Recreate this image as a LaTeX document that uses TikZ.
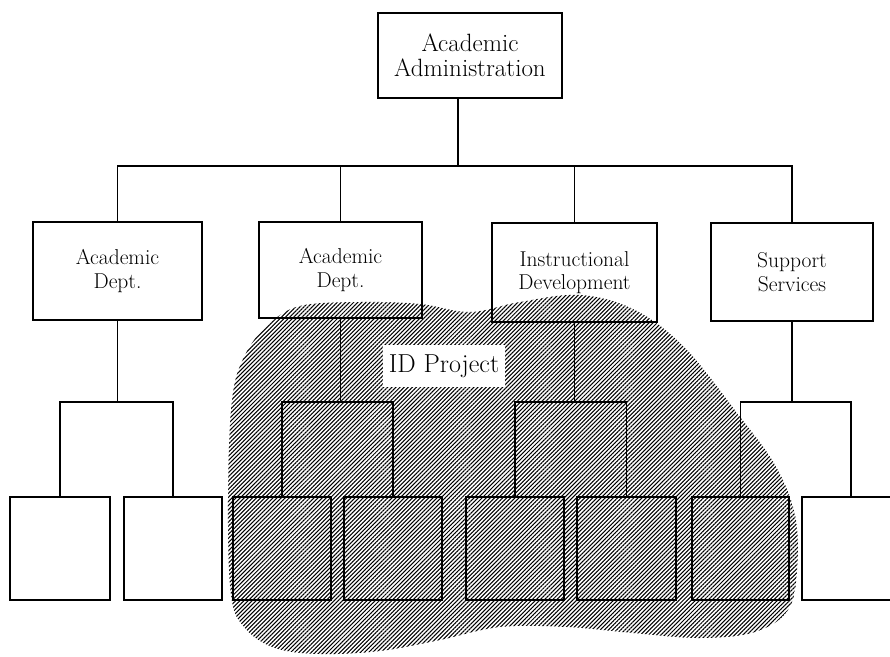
\documentclass[tikz,border=0pt]{standalone}
\usetikzlibrary{patterns.meta}
\begin{document}
\begin{tikzpicture}[x=1pt,y=-1pt,
  box/.style={draw,line width=1.6pt,inner sep=0pt,align=center,font=\fontsize{21.5}{23.5}\selectfont},
  leaf/.style={draw,line width=1.6pt,inner sep=0pt,minimum height=103pt},
  link/.style={line width=1.6pt},
  hatch/.style={pattern={Lines[angle=45,distance=2.9pt,line width=1.05pt]}}]
\useasboundingbox (0,0) rectangle (890,656);
\begin{scope}
\clip (0,0) rectangle (890,656);
% ID project blob
\path[hatch] plot[smooth cycle, tension=0.6] coordinates {
 (232,400) (245,355) (268,325) (300,306) (360,302) (420,304) (470,312)
 (520,302) (580,295) (635,310) (685,348) (737,413) (775,465) (795,515)
 (797,570) (788,610) (755,632) (700,638) (633,633) (567,627) (500,627)
 (440,640) (380,651) (320,654) (275,648) (245,628) (231,595) (228,500)};
\node[fill=white,inner sep=0pt,minimum width=122pt,minimum height=42pt,
  font=\fontsize{26}{28}\selectfont] (idp) at (444,366) {ID Project};

% top
\node[box,minimum width=184pt,minimum height=85pt,font=\fontsize{25}{25}\selectfont]
  (top) at (470,55.5) {Academic\\Administration};
% second level
\node[box,minimum width=169pt,minimum height=98pt] (d1) at (117.5,271) {Academic\\Dept.};
\node[box,minimum width=163pt,minimum height=96pt] (d2) at (340.5,270) {Academic\\Dept.};
\node[box,minimum width=165pt,minimum height=99pt] (d3) at (574.5,272.5) {Instructional\\Development};
\node[box,minimum width=162pt,minimum height=98pt] (d4) at (792,272) {Support\\Services};
% leaves
\node[leaf,minimum width=100pt] (a) at (60,548.5) {};
\node[leaf,minimum width=98pt] (b) at (173,548.5) {};
\node[leaf,minimum width=98pt] (c) at (282,548.5) {};
\node[leaf,minimum width=98pt] (d) at (393,548.5) {};
\node[leaf,minimum width=98pt] (e) at (515,548.5) {};
\node[leaf,minimum width=99pt] (f) at (626.5,548.5) {};
\node[leaf,minimum width=97pt] (g) at (740.5,548.5) {};
\node[leaf,minimum width=98pt] (h) at (851,548.5) {};

% connectors
\coordinate (bus) at (458,166);
\draw[link] ([xshift=-12pt]top.south) -- (bus);
\draw[link] (d1.north) -- (d1.north |- bus) -- (d4.north |- bus) -- (d4.north);
\draw[link] (d2.north) -- (d2.north |- bus);
\draw[link] (d3.north) -- (d3.north |- bus);

\coordinate (j1) at (d1.south |- 0,402);
\coordinate (j2) at (d2.south |- 0,402);
\coordinate (j3) at (d3.south |- 0,402);
\coordinate (j4) at (d4.south |- 0,402);
\draw[link] (d1.south) -- (j1);
\draw[link] (d2.south) -- (j2);
\draw[link] (d3.south) -- (j3);
\draw[link] (d4.south) -- (j4);
\draw[link] (a.north) |- (j1) -| (b.north);
\draw[link] (c.north) |- (j2) -| (d.north);
\draw[link] (e.north) |- (j3) -| (f.north);
\draw[link] (g.north) |- (j4) -| (h.north);
\end{scope}
\end{tikzpicture}
\end{document}
